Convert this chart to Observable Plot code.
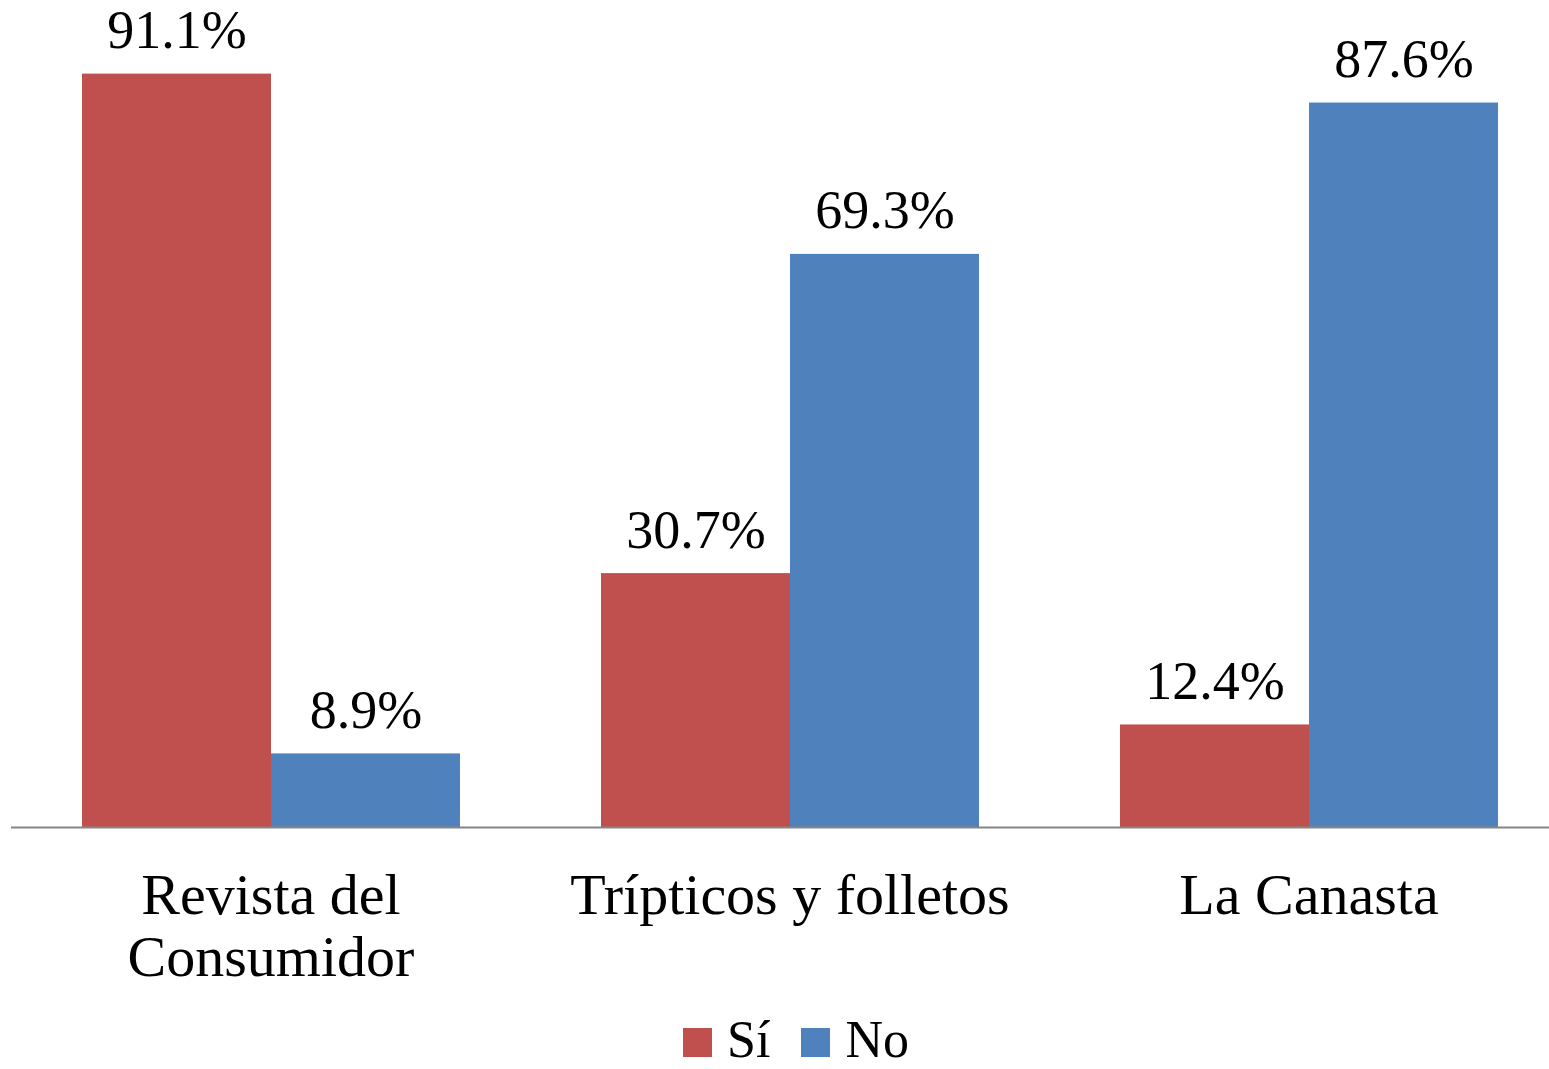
<!DOCTYPE html>
<html>
<head>
<meta charset="utf-8">
<script src="https://cdn.jsdelivr.net/npm/d3@7"></script>
<script src="https://cdn.jsdelivr.net/npm/@observablehq/plot@0.6"></script>
<style>
  html, body { margin: 0; padding: 0; background: #fff; overflow: hidden; }
  #wrap { position: relative; width: 1549px; height: 1069px; overflow: hidden; }
  #chart svg { max-width: none !important; display: block; }
  #legend { position: absolute; left: 683px; top: 1016px; display: flex; align-items: center;
    font-family: "Liberation Serif", "DejaVu Serif", serif; font-size: 52px; line-height: 48px; color: #000; }
  .sw { width: 29px; height: 29px; display: inline-block; margin-top: 5px; }
  .lab { margin-left: 15px; margin-right: 31px; }
</style>
</head>
<body>
<div id="wrap"><div id="chart"></div><div id="legend"></div></div>
<script>
const categories = ["Revista del Consumidor", "Trípticos y folletos", "La Canasta"];
const categoryLabels = ["Revista del\nConsumidor", "Trípticos y folletos", "La Canasta"];
const series = ["Sí", "No"];
const siValues = [91.1, 30.7, 12.4];
const noValues = [8.9, 69.3, 87.6];
const colors = ["#C0504D", "#4F81BD"];

const data = [];
categories.forEach((c, i) => {
  data.push({category: c, series: "Sí", value: siValues[i]});
  data.push({category: c, series: "No", value: noValues[i]});
});
const labelOf = new Map(categories.map((c, i) => [c, categoryLabels[i]]));

const font = "Liberation Serif";
const chart = Plot.plot({
  width: 1568,
  height: 1010,
  marginLeft: 10,
  marginRight: 0,
  marginTop: 0,
  marginBottom: 183,
  style: {fontFamily: font, background: "transparent", maxWidth: "none"},
  fx: {domain: categories, padding: 0, axis: null},
  x: {domain: series, paddingInner: 0, paddingOuter: 0.373, axis: null},
  y: {domain: [0, 100], axis: null},
  color: {domain: series, range: colors},
  marks: [
    Plot.barY(data, {fx: "category", x: "series", y: "value", fill: "series", inset: 0}),
    Plot.text(data, {fx: "category", x: "series", y: "value", text: d => d.value.toFixed(1) + "%",
      lineAnchor: "bottom", dy: -26, dx: 0, fontSize: 54, fill: "#000", style: "letter-spacing:4.5px"}),
    Plot.ruleY([0], {stroke: "#868686", strokeWidth: 2}),
    Plot.text(categories, {fx: d => d, text: d => labelOf.get(d), frameAnchor: "bottom",
      lineAnchor: "top", dy: 42, lineHeight: 1.07, fontSize: 58, fill: "#000"})
  ]
});
document.getElementById("chart").appendChild(chart);

const legend = document.getElementById("legend");
series.forEach((s, i) => {
  const sw = document.createElement("span");
  sw.className = "sw"; sw.style.background = colors[i];
  const lab = document.createElement("span");
  lab.className = "lab"; lab.textContent = s;
  legend.appendChild(sw); legend.appendChild(lab);
});
</script>
</body>
</html>
